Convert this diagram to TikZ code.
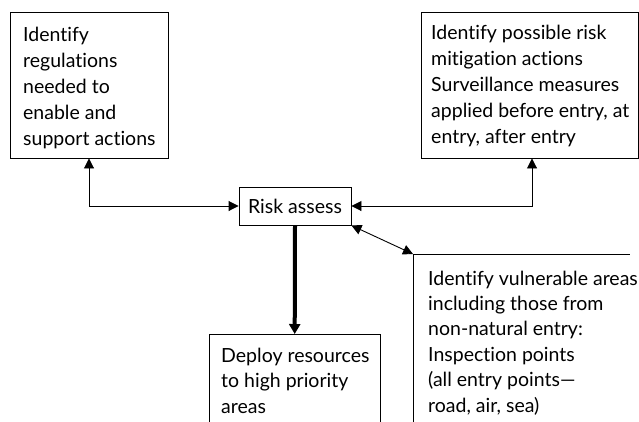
\documentclass[tikz,border=0pt]{standalone}
\usepackage{fontspec}
\setmainfont{Lato}[Ligatures=NoCommon]
\usetikzlibrary{arrows.meta}
\tikzset{
  box/.style={draw, line width=0.9pt, inner sep=0pt, rectangle},
  openbox/.style={inner sep=0pt, rectangle},
  boxtext/.style={anchor=base west, align=left, inner sep=0pt, font=\fontsize{19.5}{26}\selectfont},
  lowtext/.style={boxtext, font=\fontsize{19.5}{25.4}\selectfont},
  conn/.style={line width=0.9pt, {Triangle[length=10pt,width=10pt]}-{Triangle[length=10pt,width=10pt]}},
  thick arrow/.style={line width=4pt, -{Triangle[length=10pt,width=11pt]}},
}
\begin{document}
\begin{tikzpicture}[x=1pt,y=-1pt]
\useasboundingbox (0,0) rectangle (639,421);
\clip (0,0) rectangle (639,421);
\fill[white] (0,0) rectangle (639,421);
% boxes
\node[box, minimum width=158pt, minimum height=146pt] (b1) at (89,85) {};
\node[box, minimum width=217.5pt, minimum height=146pt] (b2) at (529.75,85) {};
\node[box, minimum width=112pt, minimum height=38pt, font=\fontsize{19.5}{26}\selectfont] (ra) at (295,206) {Risk assess};
\node[openbox, minimum width=171pt, minimum height=120pt, anchor=north west] (dep) at (209,334) {};
\node[openbox, minimum width=217pt, minimum height=200pt, anchor=north west] (vul) at (413,254) {};
\draw[line width=0.9pt] (dep.south west) -- (dep.north west) -- (dep.north east) -- (dep.south east);
\draw[line width=0.9pt] (vul.south west) -- (vul.north west) -- (vul.north east);
% texts (anchor at baseline of last line)
\node[boxtext] (t1) at (23,145) {Identify\\regulations\\needed to\\enable and\\support actions};
\node[boxtext] (t2) at (431,143.5) {Identify possible risk\\mitigation actions\\Surveillance measures\\applied before entry, at\\entry, after entry};
\node[lowtext] (t3) at (221,413) {Deploy resources\\to high priority\\areas};
\node[lowtext] (t4) at (428,412) {Identify vulnerable areas\\including those from\\non-natural entry:\\Inspection points\\(all entry points—\\road, air, sea)};
% connectors
\coordinate (b2s) at ([xshift=2.25pt]b2.south);
\draw[conn] (b1.south) |- (ra.west);
\draw[conn] (b2s) |- (ra.east);
\draw[conn] (ra.south east) -- (vul.north west);
\draw[thick arrow] (ra.south) -- (dep.north);
\end{tikzpicture}
\end{document}
